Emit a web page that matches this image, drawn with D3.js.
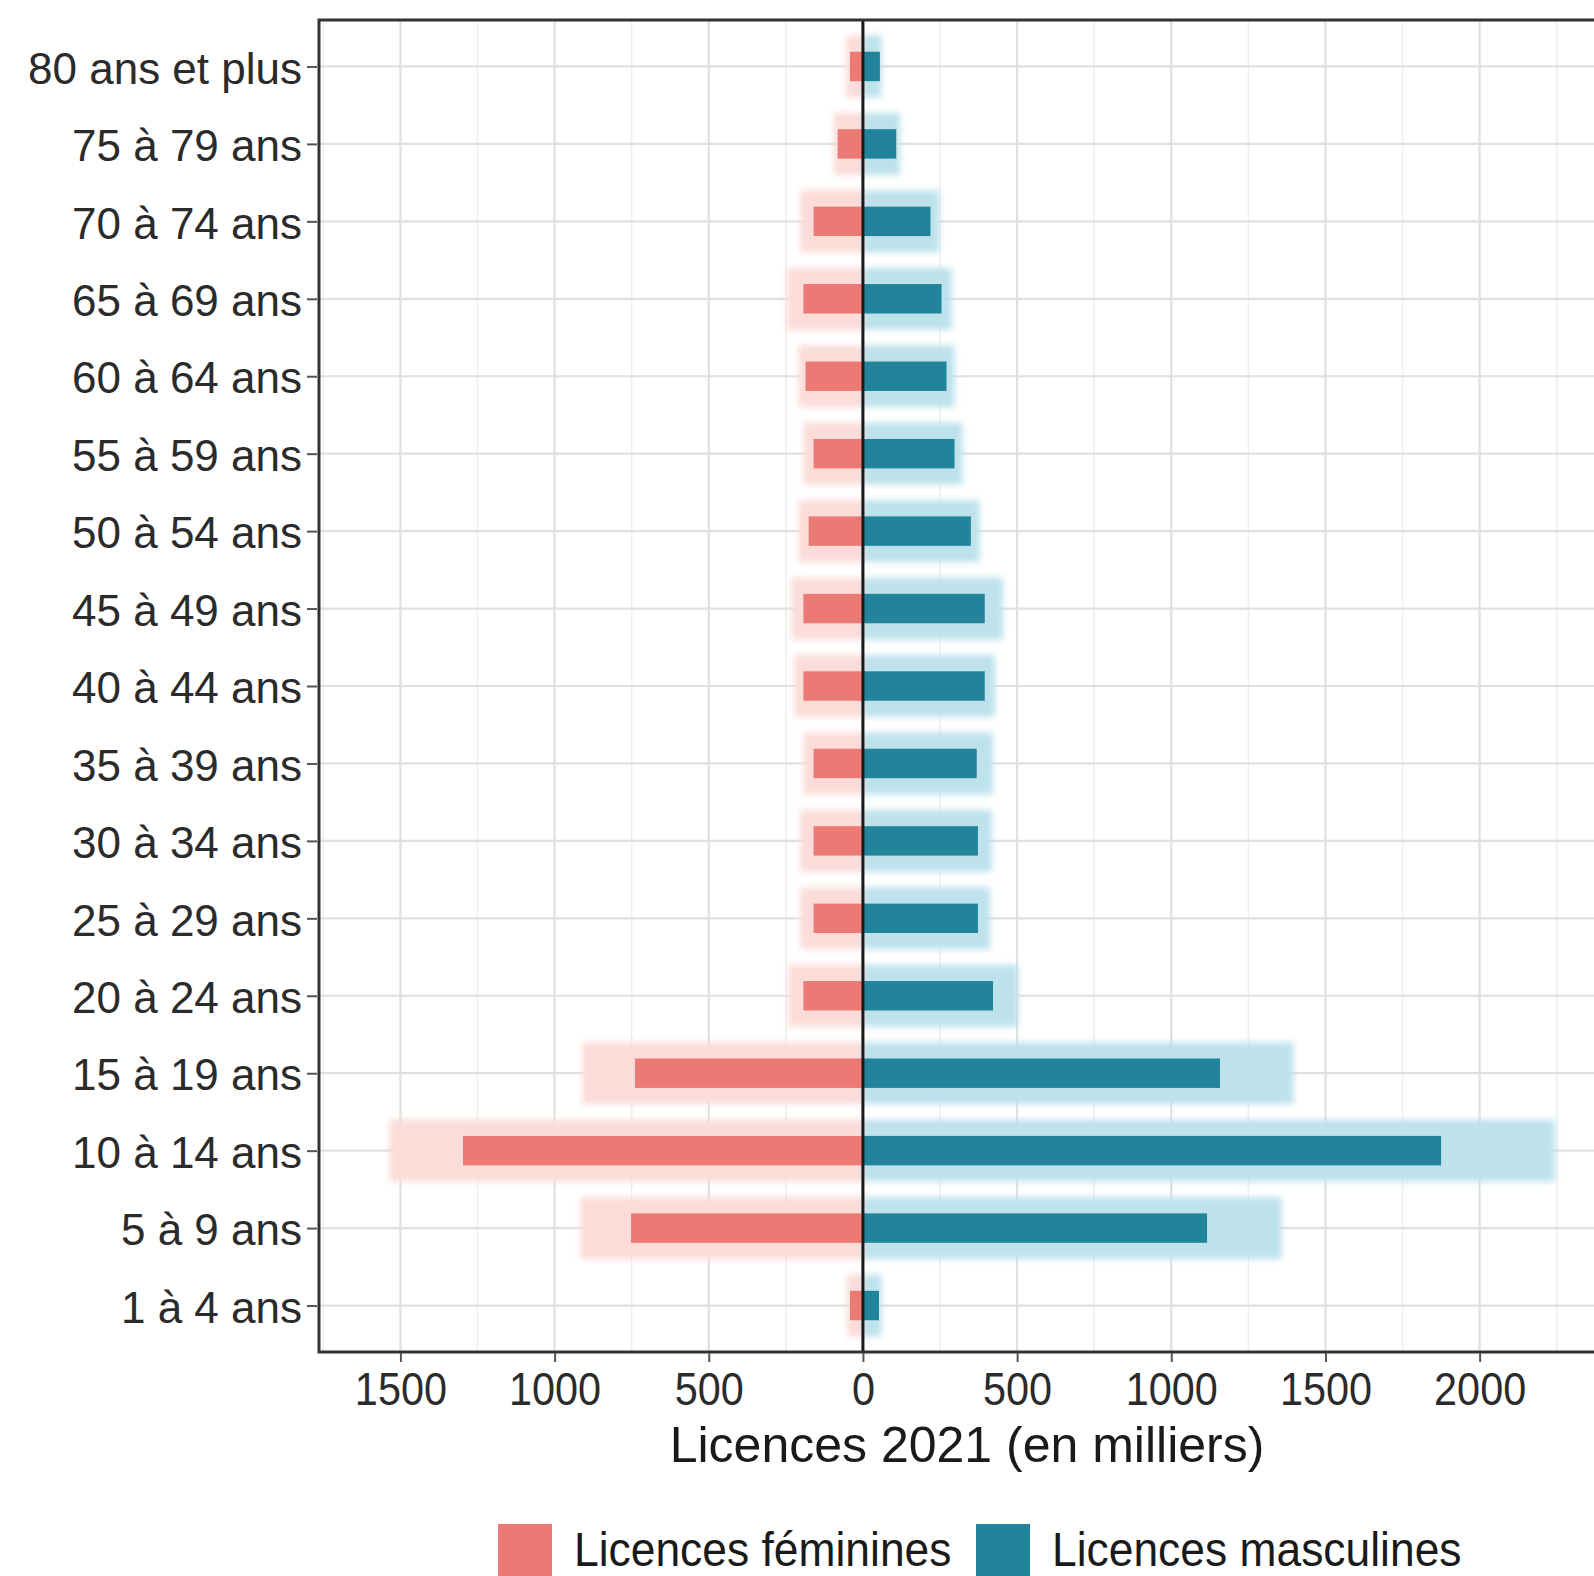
<!DOCTYPE html>
<html><head><meta charset="utf-8">
<script src="https://cdn.jsdelivr.net/npm/d3@7"></script>
<style>body{margin:0;background:#fff}svg{display:block}</style>
</head><body>
<svg id="c" width="1594" height="1576"></svg>
<script>
const categories = ["80 ans et plus","75 à 79 ans","70 à 74 ans","65 à 69 ans","60 à 64 ans","55 à 59 ans","50 à 54 ans","45 à 49 ans","40 à 44 ans","35 à 39 ans","30 à 34 ans","25 à 29 ans","20 à 24 ans","15 à 19 ans","10 à 14 ans","5 à 9 ans","1 à 4 ans"];
const feminines2021 = [42,82,160,193,186,160,176,193,193,160,160,160,193,739,1297,752,42];
const masculines2021 = [55,108,219,255,271,297,350,395,395,369,373,373,422,1158,1875,1116,52];
const femininesHalo = [55,95,203,248,209,193,209,232,222,193,203,203,242,910,1535,916,50];
const masculinesHalo = [60,120,248,288,297,323,379,454,428,422,418,412,503,1397,2245,1358,60];
const xTicks = [-1500,-1000,-500,0,500,1000,1500,2000];
const xMinor = [-1750,-1250,-750,-250,250,750,1250,1750,2250];
const legendLabels = ["Licences féminines","Licences masculines"];
const axisTitle = "Licences 2021 (en milliers)";

const svg = d3.select("#c");
const L = 319, R = 1615, T = 20, B = 1352;
const x = d3.scaleLinear().domain([-1764, 2439]).range([L, R]);
const y = d3.scalePoint().domain(categories).range([T, B]).padding(0.6);
const step = y.step();
const FONT = "'Liberation Sans', Arial, sans-serif";

const defs = svg.append("defs");
defs.append("filter").attr("id","blur").attr("x","-10%").attr("y","-30%").attr("width","120%").attr("height","160%")
  .append("feGaussianBlur").attr("stdDeviation", 3);
defs.append("clipPath").attr("id","clip").append("rect").attr("x",L).attr("y",T).attr("width",R-L).attr("height",B-T);

const g = svg.append("g");
g.selectAll(".minorx").data(xMinor).join("line")
  .attr("x1",d=>x(d)).attr("x2",d=>x(d)).attr("y1",T).attr("y2",B)
  .attr("stroke","#eeeeee").attr("stroke-width",1.5);
g.selectAll(".majorx").data(xTicks).join("line")
  .attr("x1",d=>x(d)).attr("x2",d=>x(d)).attr("y1",T).attr("y2",B)
  .attr("stroke","#e0e0e0").attr("stroke-width",2.2);
g.selectAll(".majory").data(categories).join("line")
  .attr("x1",L).attr("x2",R).attr("y1",d=>y(d)).attr("y2",d=>y(d))
  .attr("stroke","#e0e0e0").attr("stroke-width",2.2);

const bars = g.append("g").attr("clip-path","url(#clip)");
const hh = step*0.8, sh = step*0.38;
const halo = bars.append("g").attr("filter","url(#blur)");
halo.selectAll(".hf").data(categories).join("rect")
  .attr("x",(d,i)=>x(-femininesHalo[i])).attr("width",(d,i)=>x(0)-x(-femininesHalo[i]))
  .attr("y",d=>y(d)-hh/2).attr("height",hh).attr("fill","#fbdcd8");
halo.selectAll(".hm").data(categories).join("rect")
  .attr("x",x(0)).attr("width",(d,i)=>x(masculinesHalo[i])-x(0))
  .attr("y",d=>y(d)-hh/2).attr("height",hh).attr("fill","#bde2ec");
bars.selectAll(".sf").data(categories).join("rect")
  .attr("x",(d,i)=>x(-feminines2021[i])).attr("width",(d,i)=>x(0)-x(-feminines2021[i]))
  .attr("y",d=>y(d)-sh/2).attr("height",sh).attr("fill","#ec7a74");
bars.selectAll(".sm").data(categories).join("rect")
  .attr("x",x(0)).attr("width",(d,i)=>x(masculines2021[i])-x(0))
  .attr("y",d=>y(d)-sh/2).attr("height",sh).attr("fill","#21849a");

g.append("line").attr("x1",x(0)).attr("x2",x(0)).attr("y1",T).attr("y2",B).attr("stroke","#1a1a1a").attr("stroke-width",3);
g.append("rect").attr("x",L).attr("y",T).attr("width",R-L).attr("height",B-T)
  .attr("fill","none").attr("stroke","#333").attr("stroke-width",3);

const yAxis = d3.axisLeft(y).tickSize(10).tickPadding(5);
const ya = svg.append("g").attr("transform",`translate(${L-2},0)`).call(yAxis);
ya.select(".domain").remove();
ya.selectAll(".tick line").attr("stroke","#555").attr("stroke-width",2);
ya.selectAll(".tick text").attr("fill","#2b2b2b").attr("font-family",FONT).attr("font-size",44).attr("dy","0.38em");

const xAxis = d3.axisBottom(x).tickValues(xTicks).tickSize(9).tickPadding(10).tickFormat(d=>Math.abs(d));
const xa = svg.append("g").attr("transform",`translate(0,${B+1})`).call(xAxis);
xa.select(".domain").remove();
xa.selectAll(".tick line").attr("stroke","#555").attr("stroke-width",2);
xa.selectAll(".tick text").attr("fill","#2b2b2b").attr("font-family",FONT).attr("font-size",46).attr("dy","0.71em")
  .attr("transform","scale(0.9,1)");

svg.append("text").attr("transform",`translate(${(L+R)/2},1426)`).attr("text-anchor","middle").attr("dy","0.71em")
  .attr("font-family",FONT).attr("font-size",50).attr("fill","#1a1a1a").text(axisTitle);

const legColors = ["#ec7a74","#21849a"];
const legX = [498, 976];
const leg = svg.append("g");
legendLabels.forEach((lab,i)=>{
  leg.append("rect").attr("x",legX[i]).attr("y",1524).attr("width",54).attr("height",54).attr("fill",legColors[i]);
  leg.append("text").attr("transform",`translate(${legX[i]+76},1549) scale(0.925,1)`).attr("dy","0.35em")
    .attr("font-family",FONT).attr("font-size",48).attr("fill","#1a1a1a").text(lab);
});
</script>
</body></html>
